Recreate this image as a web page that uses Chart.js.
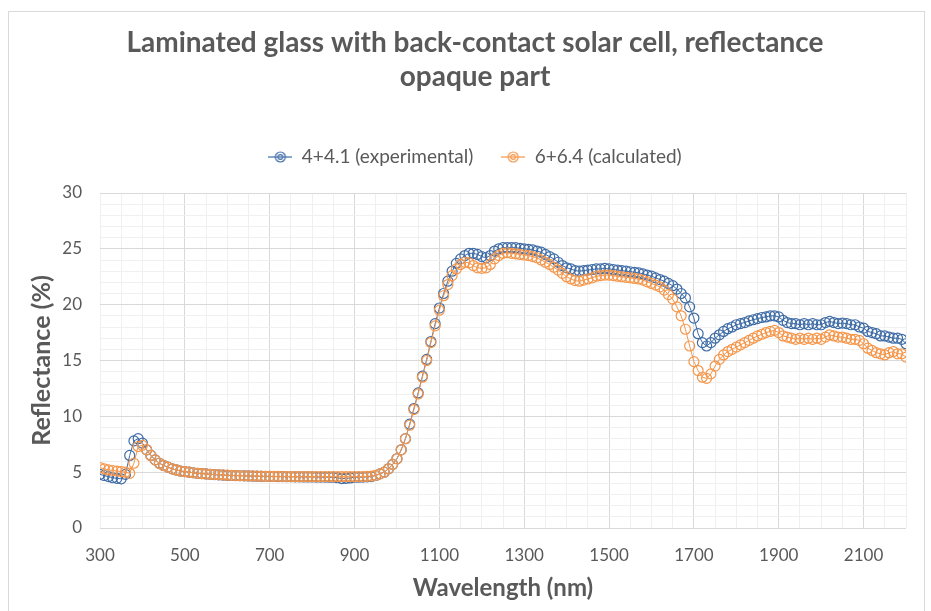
<!DOCTYPE html>
<html>
<head>
<meta charset="utf-8">
<script src="https://cdn.jsdelivr.net/npm/chart.js@4/dist/chart.umd.min.js"></script>
<style>
  html, body { margin: 0; padding: 0; background: #fff; }
  #wrap { width: 931px; height: 611px; position: relative; }
</style>
</head>
<body>
<div id="wrap"><canvas id="chart"></canvas></div>
<script>
const wavelengths = [
  300, 310, 320, 330, 340, 350, 360, 370, 380, 390,
  400, 410, 420, 430, 440, 450, 460, 470, 480, 490,
  500, 510, 520, 530, 540, 550, 560, 570, 580, 590,
  600, 610, 620, 630, 640, 650, 660, 670, 680, 690,
  700, 710, 720, 730, 740, 750, 760, 770, 780, 790,
  800, 810, 820, 830, 840, 850, 860, 870, 880, 890,
  900, 910, 920, 930, 940, 950, 960, 970, 980, 990,
  1000, 1010, 1020, 1030, 1040, 1050, 1060, 1070, 1080, 1090,
  1100, 1110, 1120, 1130, 1140, 1150, 1160, 1170, 1180, 1190,
  1200, 1210, 1220, 1230, 1240, 1250, 1260, 1270, 1280, 1290,
  1300, 1310, 1320, 1330, 1340, 1350, 1360, 1370, 1380, 1390,
  1400, 1410, 1420, 1430, 1440, 1450, 1460, 1470, 1480, 1490,
  1500, 1510, 1520, 1530, 1540, 1550, 1560, 1570, 1580, 1590,
  1600, 1610, 1620, 1630, 1640, 1650, 1660, 1670, 1680, 1690,
  1700, 1710, 1720, 1730, 1740, 1750, 1760, 1770, 1780, 1790,
  1800, 1810, 1820, 1830, 1840, 1850, 1860, 1870, 1880, 1890,
  1900, 1910, 1920, 1930, 1940, 1950, 1960, 1970, 1980, 1990,
  2000, 2010, 2020, 2030, 2040, 2050, 2060, 2070, 2080, 2090,
  2100, 2110, 2120, 2130, 2140, 2150, 2160, 2170, 2180, 2190,
  2200
]

// 4+4.1 (experimental)
const experimental = [
  4.8, 4.7, 4.6, 4.5, 4.45, 4.4, 4.8, 6.5, 7.8, 8.0,
  7.6, 7.0, 6.5, 6.1, 5.8, 5.6, 5.45, 5.3, 5.2, 5.1,
  5.05, 5.0, 4.95, 4.9, 4.87, 4.84, 4.81, 4.78, 4.76, 4.74,
  4.72, 4.7, 4.69, 4.68, 4.67, 4.66, 4.65, 4.64, 4.63, 4.62,
  4.62, 4.61, 4.6, 4.6, 4.59, 4.59, 4.58, 4.58, 4.57, 4.57,
  4.57, 4.56, 4.56, 4.56, 4.55, 4.55, 4.5, 4.42, 4.45, 4.48,
  4.55, 4.55, 4.56, 4.58, 4.6, 4.7, 4.85, 5.0, 5.3, 5.7,
  6.2, 7.0, 8.0, 9.3, 10.7, 12.1, 13.6, 15.1, 16.7, 18.3,
  19.7, 21.0, 22.1, 23.0, 23.7, 24.1, 24.4, 24.6, 24.6, 24.5,
  24.3, 24.2, 24.4, 24.8, 25.0, 25.1, 25.1, 25.1, 25.1, 25.05,
  25.0, 24.95, 24.9, 24.8, 24.7, 24.5, 24.3, 24.1, 23.8, 23.5,
  23.3, 23.2, 23.05, 23.0, 23.05, 23.1, 23.15, 23.2, 23.2, 23.25,
  23.2, 23.15, 23.1, 23.05, 23.0, 22.95, 22.9, 22.85, 22.75, 22.65,
  22.55, 22.4, 22.25, 22.1, 21.9, 21.7, 21.4, 21.0, 20.6, 19.8,
  18.8, 17.4, 16.6, 16.3, 16.6, 17.0, 17.3, 17.6, 17.85, 18.0,
  18.2, 18.3, 18.4, 18.55, 18.65, 18.75, 18.85, 18.9, 19.0, 19.0,
  18.9, 18.6, 18.4, 18.3, 18.3, 18.2, 18.3, 18.2, 18.3, 18.2,
  18.2, 18.4, 18.5, 18.4, 18.3, 18.35, 18.3, 18.2, 18.2, 18.0,
  17.9, 17.6, 17.5, 17.4, 17.2, 17.2, 17.1, 17.0, 17.0, 16.9,
  16.5
]

// 6+6.4 (calculated)
const calculated = [
  5.4, 5.3, 5.2, 5.15, 5.1, 5.05, 5.0, 4.9, 5.8, 7.3,
  7.4, 7.0, 6.5, 6.1, 5.8, 5.6, 5.45, 5.3, 5.2, 5.1,
  5.05, 5.0, 4.95, 4.9, 4.87, 4.84, 4.81, 4.79, 4.77, 4.75,
  4.73, 4.71, 4.7, 4.69, 4.68, 4.67, 4.66, 4.65, 4.64, 4.63,
  4.63, 4.62, 4.62, 4.61, 4.61, 4.6, 4.6, 4.6, 4.6, 4.6,
  4.6, 4.6, 4.6, 4.6, 4.6, 4.6, 4.6, 4.6, 4.6, 4.6,
  4.6, 4.6, 4.6, 4.62, 4.65, 4.72, 4.85, 5.0, 5.3, 5.7,
  6.2, 7.0, 8.0, 9.2, 10.6, 12.0, 13.5, 15.0, 16.6, 18.1,
  19.5, 20.8, 21.8, 22.6, 23.2, 23.6, 23.8, 23.75, 23.5, 23.3,
  23.25, 23.3, 23.6, 24.1, 24.4, 24.6, 24.65, 24.6, 24.55, 24.5,
  24.45, 24.4, 24.3, 24.2, 24.0, 23.8, 23.6, 23.35, 23.1, 22.8,
  22.5, 22.3, 22.15, 22.1, 22.2, 22.3, 22.4, 22.55, 22.6, 22.65,
  22.65, 22.6, 22.55, 22.5, 22.45, 22.4, 22.35, 22.3, 22.2, 22.05,
  21.9, 21.75, 21.6, 21.3, 20.9, 20.5, 19.8, 19.0, 17.8, 16.3,
  14.9, 14.1, 13.5, 13.4, 13.8, 14.5, 15.1, 15.5, 15.8, 16.0,
  16.2, 16.4, 16.6, 16.8, 17.0, 17.2, 17.35, 17.5, 17.6, 17.7,
  17.5, 17.2, 17.1, 17.0, 16.9, 17.0, 16.9, 17.0, 16.9, 17.0,
  16.9, 17.1, 17.3, 17.2, 17.1, 17.1, 17.0, 16.9, 16.9, 16.8,
  16.5, 16.1, 15.9, 15.7, 15.6, 15.5, 15.7, 15.8, 15.6, 15.6,
  15.3
]

const seriesNames = ['4+4.1 (experimental)', '6+6.4 (calculated)']
const xTickLabels = [300, 500, 700, 900, 1100, 1300, 1500, 1700, 1900, 2100]
const yTickLabels = [0, 5, 10, 15, 20, 25, 30]

const BLUE = '#3F6CA6'
const ORANGE = '#F5964A'
const TEXT = '#595959'
const FONT = 'Lato, "Open Sans", sans-serif'

// little legend glyph: line with double circle marker, like the original
function legendIcon(color) {
  const c = document.createElement('canvas')
  c.width = 24
  c.height = 14
  const g = c.getContext('2d')
  g.strokeStyle = color
  g.lineWidth = 1.2
  g.beginPath()
  g.moveTo(0, 7); g.lineTo(24, 7)
  g.stroke()
  g.beginPath(); g.arc(12, 7, 5, 0, Math.PI * 2); g.stroke()
  g.beginPath(); g.arc(12, 7, 2.3, 0, Math.PI * 2); g.stroke()
  return c
}

const toPoints = vals => wavelengths.map((w, i) => ({ x: w, y: vals[i] }))

const frame = {
  id: 'frame',
  beforeDraw(chart) {
    const { ctx } = chart
    ctx.save()
    ctx.fillStyle = '#fff'
    ctx.fillRect(0, 0, chart.width, chart.height)
    ctx.strokeStyle = '#D9D9D9'
    ctx.lineWidth = 1
    ctx.strokeRect(8.5, 11.5, 916, 640)
    ctx.restore()
  },
}

const el = document.getElementById('chart')
new Chart(el, {
  type: 'scatter',
  data: {
    datasets: [
      {
        label: seriesNames[0],
        data: toPoints(experimental),
        showLine: true,
        borderColor: BLUE,
        borderWidth: 1,
        pointStyle: 'circle',
        pointRadius: 5,
        pointBorderWidth: 1.2,
        pointBorderColor: BLUE,
        pointBackgroundColor: 'rgba(0,0,0,0)',
        order: 1,
      },
      {
        label: seriesNames[1],
        data: toPoints(calculated),
        showLine: true,
        borderColor: ORANGE,
        borderWidth: 1,
        pointStyle: 'circle',
        pointRadius: 5,
        pointBorderWidth: 1.2,
        pointBorderColor: ORANGE,
        pointBackgroundColor: 'rgba(0,0,0,0)',
        order: 0,
      },
    ],
  },
  options: {
    responsive: true,
    maintainAspectRatio: false,
    animation: false,
    // left padding pushes title/legend centre to the right like Excel does
    layout: { padding: { left: 44, right: 25, top: 0, bottom: 0 } },
    plugins: {
      title: {
        display: true,
        text: ['Laminated glass with back-contact solar cell, reflectance', 'opaque part'],
        color: TEXT,
        font: { family: FONT, size: 28, weight: 'bold', lineHeight: 34 / 28 },
        padding: { top: 26, bottom: 25.5 },
      },
      // empty spacer between legend and plot area
      subtitle: {
        display: true,
        text: '',
        weight: 500,
        font: { size: 2, lineHeight: 1 },
        padding: { top: 0, bottom: 14.5 },
      },
      legend: {
        position: 'top',
        labels: {
          color: TEXT,
          font: { family: FONT, size: 19 },
          usePointStyle: true,
          pointStyleWidth: 24,
          padding: 28,
          generateLabels: chart => chart.data.datasets.map((ds, i) => ({
            text: ds.label,
            fontColor: TEXT,
            pointStyle: legendIcon(ds.borderColor),
            strokeStyle: ds.borderColor,
            fillStyle: 'rgba(0,0,0,0)',
            lineWidth: 0,
            hidden: false,
            datasetIndex: i,
          })),
        },
      },
      tooltip: { enabled: false },
    },
    scales: {
      x: {
        type: 'linear',
        min: 300,
        max: 2200,
        afterBuildTicks: scale => {
          const t = []
          for (let v = 300; v <= 2200; v += 50) t.push({ value: v })
          scale.ticks = t
        },
        afterFit: scale => { scale.height = 83 },
        grid: {
          drawTicks: false,
          color: ctx => (ctx.tick && ctx.tick.value !== 300 && (ctx.tick.value - 300) % 200 === 0) ? '#D9D9D9' : '#F0F0F0',
        },
        border: { display: false },
        ticks: {
          autoSkip: false,
          maxRotation: 0,
          padding: 17,
          color: TEXT,
          font: { family: FONT, size: 17 },
          callback: v => xTickLabels.includes(v) ? String(v) : '',
        },
        title: {
          display: true,
          text: 'Wavelength (nm)',
          color: TEXT,
          font: { family: FONT, size: 24, weight: 'bold' },
          padding: { top: 0, bottom: 8 },
        },
      },
      y: {
        min: 0,
        max: 30,
        afterBuildTicks: scale => {
          const t = []
          for (let v = 0; v <= 30; v += 1) t.push({ value: v })
          scale.ticks = t
        },
        afterFit: scale => { scale.width = 56 },
        grid: {
          drawTicks: false,
          color: ctx => (ctx.tick && ctx.tick.value % 5 === 0) ? '#D9D9D9' : '#F0F0F0',
        },
        border: { display: false },
        ticks: {
          autoSkip: false,
          padding: 18,
          color: TEXT,
          font: { family: FONT, size: 17 },
          callback: v => yTickLabels.includes(v) ? String(v) : '',
        },
        title: {
          display: true,
          text: 'Reflectance (%)',
          color: TEXT,
          font: { family: FONT, size: 25, weight: 'bold' },
          padding: { top: -17, bottom: 0 },
        },
      },
    },
  },
  plugins: [frame],
})
</script>
</body>
</html>
